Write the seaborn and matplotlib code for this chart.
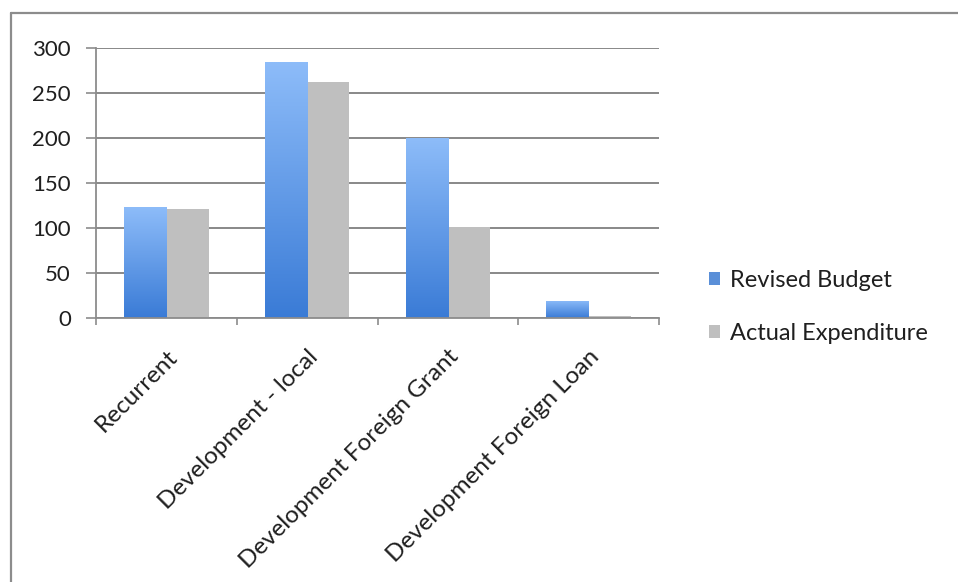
import numpy as np
import pandas as pd
import matplotlib
matplotlib.use("Agg")
import matplotlib.pyplot as plt
import seaborn as sns
from matplotlib.colors import LinearSegmentedColormap
from matplotlib.lines import Line2D
from matplotlib.patches import Patch

# Budget categories and the two series (millions)
categories = ["Recurrent", "Development - local", "Development Foreign Grant",
              "Development Foreign Loan"]
revised_budget = [123, 284, 200, 19]
actual_expenditure = [121, 262, 101, 2]
series_names = ["Revised Budget", "Actual Expenditure"]
y_ticks = [0, 50, 100, 150, 200, 250, 300]

df = pd.DataFrame({
    "category": categories * 2,
    "value": revised_budget + actual_expenditure,
    "series": [series_names[0]] * len(categories) + [series_names[1]] * len(categories),
})

sns.set_theme(style="white")
plt.rcParams["font.family"] = ["Lato", "DejaVu Sans"]

BLUE = "#4f8ae0"
GREY = "#bfbfbf"
TEXT = "#1f1f1f"

fig = plt.figure(figsize=(9.58, 5.82), dpi=100)
ax = fig.add_axes([96 / 958, 1 - 318 / 582, 563 / 958, 270 / 582])

sns.barplot(data=df, x="category", y="value", hue="series", order=categories,
            hue_order=series_names, palette=[BLUE, GREY], width=0.6,
            saturation=1, linewidth=0, legend=False, ax=ax)

# vertical gradient on the budget bars
blue_cmap = LinearSegmentedColormap.from_list("bluegrad", ["#3a7bd6", "#8dbcf9"])
grad = np.linspace(0, 1, 256).reshape(-1, 1)
n = len(categories)
for patch in ax.patches[:n]:
    x0, y0 = patch.get_x(), patch.get_y()
    w, h = patch.get_width(), patch.get_height()
    if h <= 0:
        continue
    im = ax.imshow(grad, cmap=blue_cmap, origin="lower", aspect="auto",
                   extent=[x0, x0 + w, y0, y0 + h], zorder=patch.get_zorder() + 0.1,
                   interpolation="bilinear")
    im.set_clip_path(patch)

ax.set_xlim(-0.5, n - 0.5)
ax.set_ylim(0, 300)
ax.set_yticks(y_ticks)
ax.set_yticklabels([str(t) for t in y_ticks], fontsize=16, color=TEXT)
ax.yaxis.grid(True, color="#7f7f7f", linewidth=1.3)
ax.set_axisbelow(True)

for side in ["top", "right"]:
    ax.spines[side].set_visible(False)
for side in ["left", "bottom"]:
    ax.spines[side].set_color("#8c8c8c")
    ax.spines[side].set_linewidth(1.3)

ax.tick_params(axis="y", which="major", left=True, length=7, width=1.2,
               color="#8c8c8c", pad=11)
ax.set_xticks(np.arange(n))
ax.set_xticks(np.arange(n + 1) - 0.5, minor=True)
ax.tick_params(axis="x", which="major", length=0, pad=20)
ax.tick_params(axis="x", which="minor", bottom=True, length=5, width=1.2,
               color="#8c8c8c")
ax.set_xticklabels(categories, rotation=45, ha="right", va="top",
                   rotation_mode="anchor", fontsize=17.5, color=TEXT)
ax.set_xlabel("")
ax.set_ylabel("")

handles = [Patch(facecolor="#5a8fd8", edgecolor="none"),
           Patch(facecolor=GREY, edgecolor="none")]
fig.legend(handles, series_names, loc="center left",
           bbox_to_anchor=(688 / 958, 1 - 307 / 582), frameon=False,
           fontsize=17, handlelength=0.45, handleheight=0.45, handletextpad=0.45,
           labelspacing=1.35, labelcolor=TEXT)

# chart area frame
frame_kw = dict(color="#8c8c8c", linewidth=1.6, transform=fig.transFigure)
fig.add_artist(Line2D([11 / 958, 1.0], [1 - 13 / 582, 1 - 13 / 582], **frame_kw))
fig.add_artist(Line2D([11 / 958, 11 / 958], [0.0, 1 - 13 / 582], **frame_kw))

fig.savefig("out.png", dpi=100, facecolor="white")
